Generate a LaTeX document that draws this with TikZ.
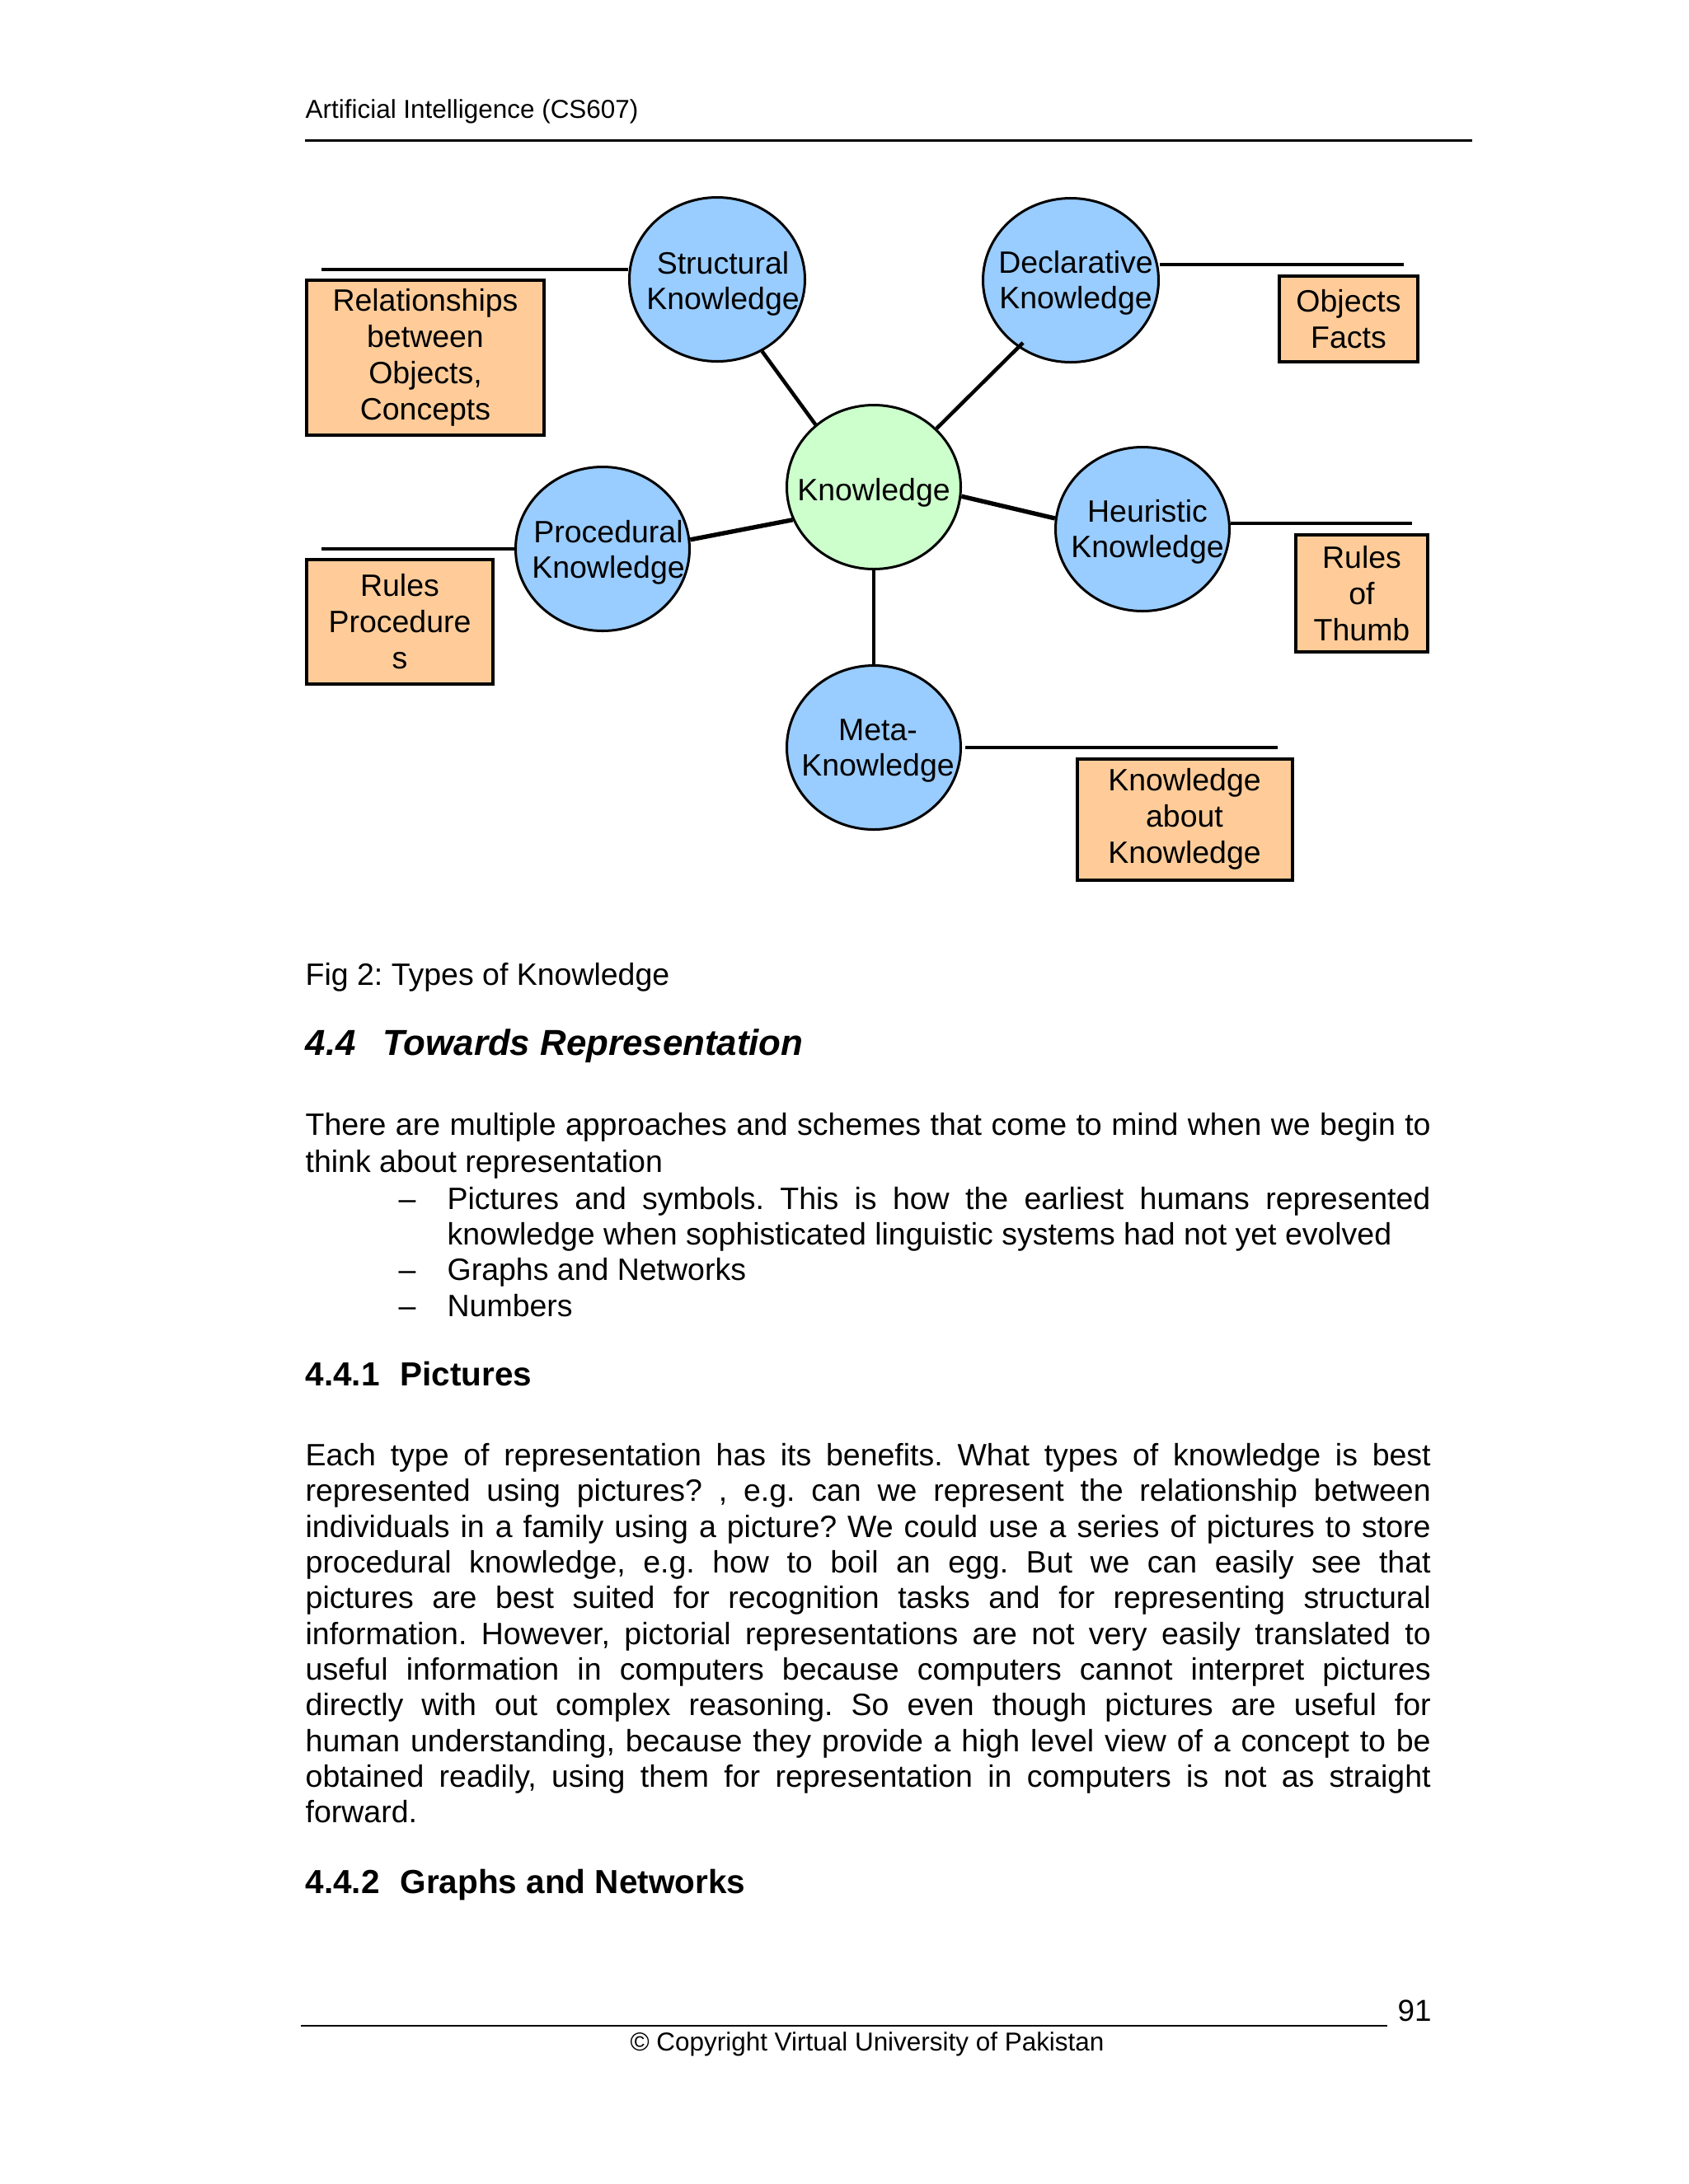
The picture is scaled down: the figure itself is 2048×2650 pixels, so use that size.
\documentclass[tikz,border=0pt]{standalone}
\usepackage{fontspec}
\setmainfont{Liberation Sans}
\usetikzlibrary{shapes.geometric,calc}
\definecolor{bubblue}{HTML}{99CCFF}
\definecolor{knowgreen}{HTML}{CCFFCC}
\definecolor{boxorange}{HTML}{FFCC99}
\newcommand\pxu{0.29887pt}
\newcommand\bodyfont{\fontsize{11.2}{12.95}\selectfont}
\newcommand\boxfont{\fontsize{11.2}{13.1}\selectfont}
\newcommand\hdrfont{\fontsize{9.4}{11}\selectfont}
\newcommand\hAfont{\fontsize{13.1}{15}\selectfont\bfseries\itshape}
\newcommand\hBfont{\fontsize{12.1}{14}\selectfont\bfseries}
\newdimen\bodyW \bodyW=408pt
\newdimen\bulW \bulW=356.5pt
\newcommand\jA[1]{\hbox to \bodyW{#1}}
\newcommand\jB[1]{\hbox to \bulW{#1}}
\tikzset{
  bub/.style={ellipse, draw, line width=0.9pt, fill=bubblue,
    minimum width=213*\pxu, minimum height=199*\pxu, inner sep=0pt},
  lbl/.style={align=center, font=\bodyfont, inner sep=0pt},
  infobox/.style={rectangle, draw, line width=1.2pt, fill=boxorange,
    align=center, font=\boxfont, inner sep=0pt},
  conn/.style={line width=1.35pt},
  connthick/.style={line width=1.6pt},
  txt/.style={anchor=base west, inner sep=0pt, font=\bodyfont},
}
\begin{document}
\frenchspacing
\begin{tikzpicture}[x=0.29887pt, y=-0.29887pt]
\useasboundingbox (0,0) rectangle (2048,2650);
\fill[white] (0,0) rectangle (2048,2650);

% header
\node[txt, font=\hdrfont] (hdr) at (370,143) {Artificial Intelligence (CS607)};
\coordinate (hl1) at (370,170);
\coordinate (hl2) at (1786,170);
\draw[line width=0.9pt] (hl1) -- (hl2);

% ellipses
\node[bub] (struct) at (870,339) {};
\node[bub] (decl) at (1299,340) {};
\node[bub, fill=knowgreen, minimum width=211*\pxu] (know) at (1060,591) {};
\node[bub, minimum width=211*\pxu] (proc) at (731,666) {};
\node[bub, minimum width=211*\pxu] (heur) at (1386,642) {};
\node[bub, minimum width=211*\pxu] (meta) at (1060,907) {};

\node[lbl] (structT) at (877,344) {Structural\\Knowledge};
\node[lbl] (declT) at (1305,343) {Declarative\\Knowledge};
\node[lbl] (knowT) at (1060,598) {Knowledge};
\node[lbl] (procT) at (738,670) {Procedural\\Knowledge};
\node[lbl] (heurT) at (1392,645) {Heuristic\\Knowledge};
\node[lbl] (metaT) at (1065,911) {Meta-\\Knowledge};

% boxes
\node[infobox, minimum width=288*\pxu, minimum height=188*\pxu] (rel) at (516,434)
  {Relationships\\between\\Objects,\\Concepts};
\node[infobox, minimum width=168*\pxu, minimum height=104*\pxu] (obj) at (1636,387)
  {Objects\\Facts};
\node[infobox, minimum width=226*\pxu, minimum height=151*\pxu] (rules) at (485,754)
  {Rules\\Procedure\\s};
\node[infobox, minimum width=160*\pxu, minimum height=142*\pxu] (thumb) at (1652,720)
  {Rules\\of\\Thumb};
\node[infobox, minimum width=261*\pxu, minimum height=147*\pxu] (kak) at (1437,994)
  {Knowledge\\about\\Knowledge};

% connectors
\draw[conn] (struct.-58) -- (know.133);
\draw[conn, shorten <=-2.4pt] (decl.232) -- (know.43);
\draw[connthick] (proc.6) -- (know.202);
\draw[connthick] (know.-6) -- (heur.173);
\draw[conn] (know.south) -- (meta.north);

% leader lines
\coordinate (ls) at (390,327);
\draw[conn] (ls) -- (ls -| struct.west);
\coordinate (ld) at (1703,321);
\draw[conn] (ld -| decl.east) -- (ld);
\coordinate (lp) at (390,666);
\draw[conn] (lp) -- (proc.west);
\coordinate (lh) at (1713,635);
\draw[conn] (lh -| heur.east) -- (lh);
\coordinate (lm) at (1550,907);
\draw[conn, shorten <=1.2pt] (meta.east) -- (lm);

% caption and heading
\node[txt] (cap) at (370,1195) {Fig 2: Types of Knowledge};
\node[txt, font=\hAfont] (h44n) at (370,1280) {4.4};
\node[txt, font=\hAfont] (h44t) at (464,1280) {Towards Representation};

% intro
\node[txt] (i1) at (370,1377) {\jA{There are multiple approaches and schemes that come to mind when we begin to}};
\node[txt] (i2) at (370,1422) {think about representation};
\node[txt] (d1) at (483,1467) {–};
\node[txt] (b1) at (542,1467) {\jB{Pictures and symbols. This is how the earliest humans represented}};
\node[txt] (b2) at (542,1510) {knowledge when sophisticated linguistic systems had not yet evolved};
\node[txt] (d2) at (483,1553) {–};
\node[txt] (b3) at (542,1553) {Graphs and Networks};
\node[txt] (d3) at (483,1597) {–};
\node[txt] (b4) at (542,1597) {Numbers};

% 4.4.1
\node[txt, font=\hBfont] (h441n) at (370,1681) {4.4.1};
\node[txt, font=\hBfont] (h441t) at (485,1681) {Pictures};

\node[txt] (p1) at (370,1778) {\jA{Each type of representation has its benefits. What types of knowledge is best}};
\node[txt] (p2) at (370,1821) {\jA{represented using pictures? , e.g. can we represent the relationship between}};
\node[txt] (p3) at (370,1865) {\jA{individuals in a family using a picture? We could use a series of pictures to store}};
\node[txt] (p4) at (370,1908) {\jA{procedural knowledge, e.g. how to boil an egg. But we can easily see that}};
\node[txt] (p5) at (370,1951) {\jA{pictures are best suited for recognition tasks and for representing structural}};
\node[txt] (p6) at (370,1995) {\jA{information. However, pictorial representations are not very easily translated to}};
\node[txt] (p7) at (370,2038) {\jA{useful information in computers because computers cannot interpret pictures}};
\node[txt] (p8) at (370,2081) {\jA{directly with out complex reasoning. So even though pictures are useful for}};
\node[txt] (p9) at (370,2125) {\jA{human understanding, because they provide a high level view of a concept to be}};
\node[txt] (p10) at (370,2168) {\jA{obtained readily, using them for representation in computers is not as straight}};
\node[txt] (p11) at (370,2211) {forward.};

% 4.4.2
\node[txt, font=\hBfont] (h442n) at (370,2297) {4.4.2};
\node[txt, font=\hBfont] (h442t) at (485,2297) {Graphs and Networks};

% footer
\coordinate (fl1) at (365,2458);
\coordinate (fl2) at (1683,2458);
\draw[line width=0.6pt] (fl1) -- (fl2);
\node[txt, font=\fontsize{11}{13}\selectfont] (pg) at (1695,2452) {91};
\node[anchor=base, inner sep=0pt, font=\hdrfont] (copy) at (1052,2488) {© Copyright Virtual University of Pakistan};
\end{tikzpicture}
\end{document}
